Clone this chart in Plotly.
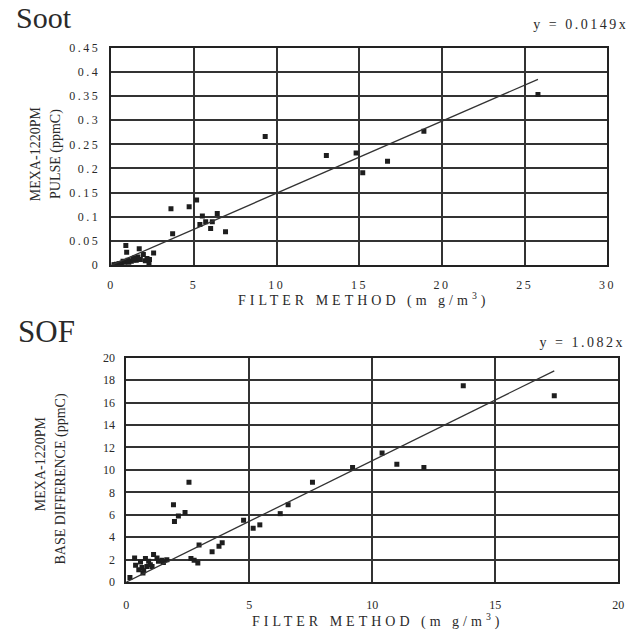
import plotly.graph_objects as go

W, H = 641, 638

# ---- Soot data (filter method mg/m3 vs MEXA pulse ppmC) ----
soot_x = [25.8, 18.9, 9.3, 13.0, 14.8, 16.7, 15.2, 3.6, 4.7, 5.15, 3.7, 5.5, 5.35, 5.7, 6.1, 6.4, 6.0, 6.9,
          0.87, 0.92, 1.68, 1.93, 2.55, 2.3, 2.27, 1.4, 1.5, 1.75, 1.2, 1.05, 0.8, 0.6, 0.45, 0.3, 0.2, 0.1,
          0.7, 1.3, 1.6, 2.05, 1.0, 0.5, 1.35, 2.15]
soot_y = [0.353, 0.277, 0.266, 0.227, 0.232, 0.215, 0.191, 0.117, 0.121, 0.135, 0.065, 0.102, 0.084, 0.090, 0.090, 0.107, 0.076, 0.069,
          0.041, 0.027, 0.034, 0.022, 0.025, 0.012, 0.005, 0.015, 0.010, 0.012, 0.008, 0.006, 0.006, 0.004, 0.003, 0.002, 0.001, 0.001,
          0.008, 0.013, 0.017, 0.009, 0.010, 0.003, 0.011, 0.014]
soot_slope = 0.0149
soot_line_x = [0, 25.8]

# ---- SOF data (filter method mg/m3 vs MEXA base difference ppmC) ----
sof_x = [0.15, 2.55, 1.92, 1.96, 2.12, 2.39, 4.77, 5.16, 5.43, 6.26, 6.58, 7.57, 9.2, 10.4, 11.0, 12.1, 13.7, 17.4,
         2.96, 3.49, 3.77, 3.9, 2.63, 2.76, 2.91,
         0.34, 0.38, 0.58, 0.64, 0.68, 0.78, 0.84, 0.98, 1.11, 1.25, 1.31, 1.45, 1.51, 1.65, 0.71, 0.51, 0.91, 1.05]
sof_y = [0.4, 8.9, 6.9, 5.4, 5.9, 6.2, 5.5, 4.8, 5.1, 6.1, 6.9, 8.9, 10.2, 11.5, 10.5, 10.2, 17.5, 16.6,
         3.3, 2.7, 3.2, 3.5, 2.1, 1.95, 1.7,
         2.15, 1.5, 1.8, 1.3, 0.8, 2.1, 1.4, 1.55, 2.45, 2.15, 1.85, 1.95, 1.75, 2.0, 1.0, 1.1, 1.85, 1.4]
sof_slope = 1.082
sof_line_x = [0, 17.4]

FONT = "Liberation Serif, Times New Roman, serif"
INK = "#2a2a2a"
GRID = "#333333"

fig = go.Figure()
fig.add_trace(go.Scatter(x=soot_x, y=soot_y, mode="markers", xaxis="x", yaxis="y",
                         marker=dict(symbol="square", size=5, color="#1e1e1e"), showlegend=False))
fig.add_trace(go.Scatter(x=soot_line_x, y=[soot_slope * v for v in soot_line_x], mode="lines",
                         xaxis="x", yaxis="y", line=dict(color="#333", width=1.3), showlegend=False))
fig.add_trace(go.Scatter(x=sof_x, y=sof_y, mode="markers", xaxis="x2", yaxis="y2",
                         marker=dict(symbol="square", size=5, color="#1e1e1e"), showlegend=False))
fig.add_trace(go.Scatter(x=sof_line_x, y=[sof_slope * v for v in sof_line_x], mode="lines",
                         xaxis="x2", yaxis="y2", line=dict(color="#333", width=1.3), showlegend=False))

def ax(domain, rng, dtick, anchor, standoff=7):
    return dict(domain=domain, range=rng, dtick=dtick, tick0=0, anchor=anchor,
                showgrid=True, gridcolor=GRID, gridwidth=1.6,
                showline=True, linecolor="#222", linewidth=1.8, mirror=True,
                zeroline=False, ticks="", ticklabelstandoff=standoff,
                tickfont=dict(family=FONT, size=12, color=INK), fixedrange=True)

top_x = [110 / W, 613 / W]
top_y = [1 - 264 / H, 1 - 41.5 / H]
bot_x = [125 / W, 624 / W]
bot_y = [1 - 588 / H, 1 - 358.5 / H]

fig.update_layout(
    width=W, height=H, margin=dict(l=0, r=0, t=0, b=0),
    paper_bgcolor="white", plot_bgcolor="white",
    xaxis=ax(top_x, [0, 30], 5, "y"),
    yaxis=ax(top_y, [0, 0.45], 0.05, "x"),
    xaxis2=ax(bot_x, [0, 20], 5, "y2", standoff=11),
    yaxis2=ax(bot_y, [0, 20], 2, "x2"),
)

def ann(text, x, y, size, xanchor="center", yanchor="middle", angle=0):
    fig.add_annotation(text=text, x=x / W, y=1 - y / H, xref="paper", yref="paper",
                       xanchor=xanchor, yanchor=yanchor, showarrow=False, textangle=angle,
                       font=dict(family=FONT, size=size, color=INK))

ann("Soot", 11, 11, 30, xanchor="left")
ann("SOF", 13, 332, 31, xanchor="left")
ann("y = 0.0149x", 622, 18, 14, xanchor="right")
ann("y = 1.082x", 620, 343, 14, xanchor="right")
ann("MEXA-1220PM", 33, 150, 14, angle=-90)
ann("PULSE (ppmC)", 53, 150, 14, angle=-90)
ann("MEXA-1220PM", 38, 467, 14, angle=-90)
ann("BASE DIFFERENCE (ppmC)", 59, 483, 14, angle=-90)
ann("FILTER METHOD (m g/m<sup>3</sup>)", 366, 299, 14)
ann("FILTER METHOD (m g/m<sup>3</sup>)", 380, 627, 14)

post = """
var s=document.createElement('style');
s.textContent='.xtick text{letter-spacing:2.5px}.ytick text{letter-spacing:2.5px}';
document.head.appendChild(s);
var as=document.querySelectorAll('.annotation-text');
as.forEach(function(t){var tx=t.textContent;
 if(tx.indexOf('FILTER')>=0){t.style.letterSpacing='4px';}
 else if(tx.indexOf('y =')>=0){t.style.letterSpacing='2.5px';}
});
"""
fig.write_html("out.html", post_script=post)
